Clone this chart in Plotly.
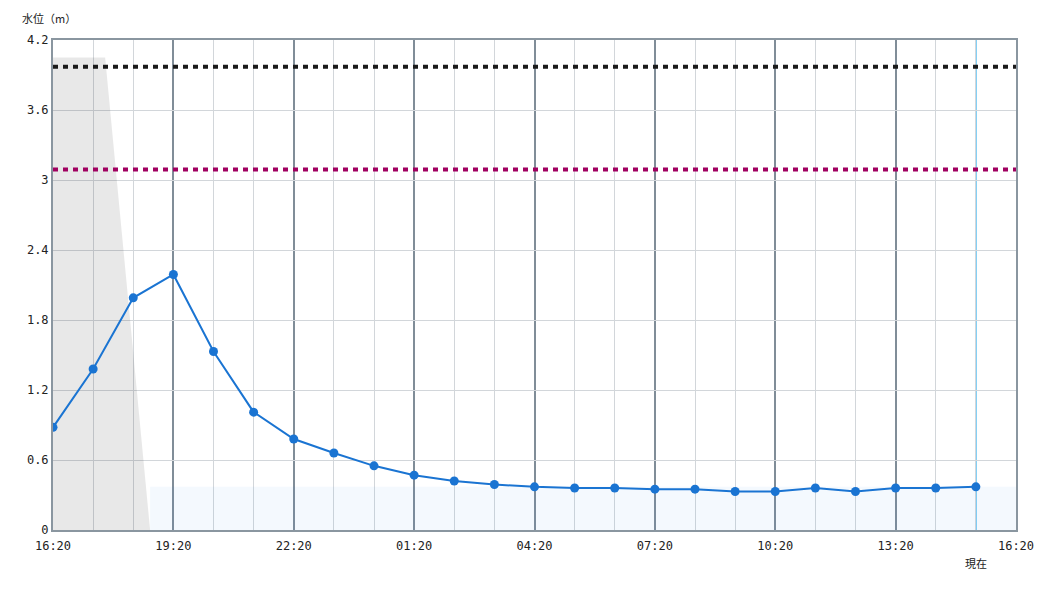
import plotly.graph_objects as go
from datetime import datetime, timedelta

start = datetime(2024, 1, 1, 16, 20)
end = start + timedelta(hours=24)

# Observed water level (m), hourly from 16:20
levels = [0.88, 1.38, 1.99, 2.19, 1.53, 1.01, 0.78, 0.66, 0.55, 0.47, 0.42, 0.39,
          0.37, 0.36, 0.36, 0.35, 0.35, 0.33, 0.33, 0.36, 0.33, 0.36, 0.36, 0.37]
times = [start + timedelta(hours=i) for i in range(len(levels))]

# Threshold levels (m)
level_black = 3.97
level_purple = 3.09

# Grey shaded region (hours from start, level)
grey_hours = [0, 0, 1.3, 2.42]
grey_levels = [0, 4.05, 4.05, 0]
grey_x = [start + timedelta(hours=h) for h in grey_hours]

# Light blue band (hours from start, level)
band_hours = [2.42, 24]
band_level = 0.37
band_x = [start + timedelta(hours=h) for h in band_hours]

now_time = times[-1]

y_ticks = [0, 0.6, 1.2, 1.8, 2.4, 3.0, 3.6, 4.2]
y_labels = ["0", "0.6", "1.2", "1.8", "2.4", "3", "3.6", "4.2"]

mono = "DejaVu Sans Mono"

fig = go.Figure()

fig.add_trace(go.Scatter(x=grey_x, y=grey_levels, fill="toself",
                         fillcolor="rgba(0,0,0,0.09)", line=dict(width=0),
                         mode="lines", hoverinfo="skip", showlegend=False))
fig.add_trace(go.Scatter(x=band_x, y=[band_level] * len(band_x), fill="tozeroy",
                         fillcolor="rgba(30,136,229,0.05)", line=dict(width=0),
                         mode="lines", hoverinfo="skip", showlegend=False))
fig.add_trace(go.Scatter(x=[start, end], y=[level_black, level_black], mode="lines",
                         line=dict(color="#1a1a1a", width=4, dash="5px,5px"),
                         showlegend=False))
fig.add_trace(go.Scatter(x=[start, end], y=[level_purple, level_purple], mode="lines",
                         line=dict(color="#a00060", width=4, dash="5px,5px"),
                         showlegend=False))

fig.add_shape(type="line", x0=now_time, x1=now_time, y0=0, y1=1, yref="paper",
              line=dict(color="#3cb4f0", width=1.5), layer="below")

fig.add_trace(go.Scatter(x=times, y=levels, mode="lines+markers",
                         line=dict(color="#1a74d2", width=2),
                         marker=dict(color="#1a74d2", size=9),
                         showlegend=False))

fig.add_annotation(text="水位（m）", x=0, xref="paper", xanchor="center",
                   xshift=-4, y=1, yref="paper", yanchor="bottom", yshift=12,
                   showarrow=False,
                   font=dict(family="Noto Sans CJK JP", size=11, color="#222"))
fig.add_annotation(text="現在", x=now_time, xref="x", y=0, yref="paper",
                   yanchor="top", yshift=-23, showarrow=False,
                   font=dict(family="Noto Sans CJK JP", size=11, color="#222"))

fig.update_xaxes(range=[start, end], type="date", tickformat="%H:%M",
                 dtick=3 * 3600000, tick0=start,
                 showgrid=True, gridcolor="#808d98", gridwidth=2,
                 minor=dict(dtick=3600000, tick0=start, showgrid=True,
                            gridcolor="#d2d6da", gridwidth=1),
                 showline=True, linecolor="#8a96a0", linewidth=2, mirror=True,
                 ticks="outside", ticklen=4, tickcolor="rgba(0,0,0,0)",
                 tickfont=dict(family=mono, size=12, color="#222"),
                 zeroline=False)
fig.update_yaxes(range=[0, 4.2], tickvals=y_ticks, ticktext=y_labels,
                 showgrid=True, gridcolor="#d2d6da", gridwidth=1,
                 showline=True, linecolor="#8a96a0", linewidth=2, mirror=True,
                 ticks="", tickfont=dict(family=mono, size=12, color="#222"),
                 zeroline=False)

fig.update_layout(width=1050, height=600, plot_bgcolor="white", paper_bgcolor="white",
                  margin=dict(l=45, r=42, t=32, b=78), showlegend=False,
                  hovermode=False)

fig.write_html("out.html")
